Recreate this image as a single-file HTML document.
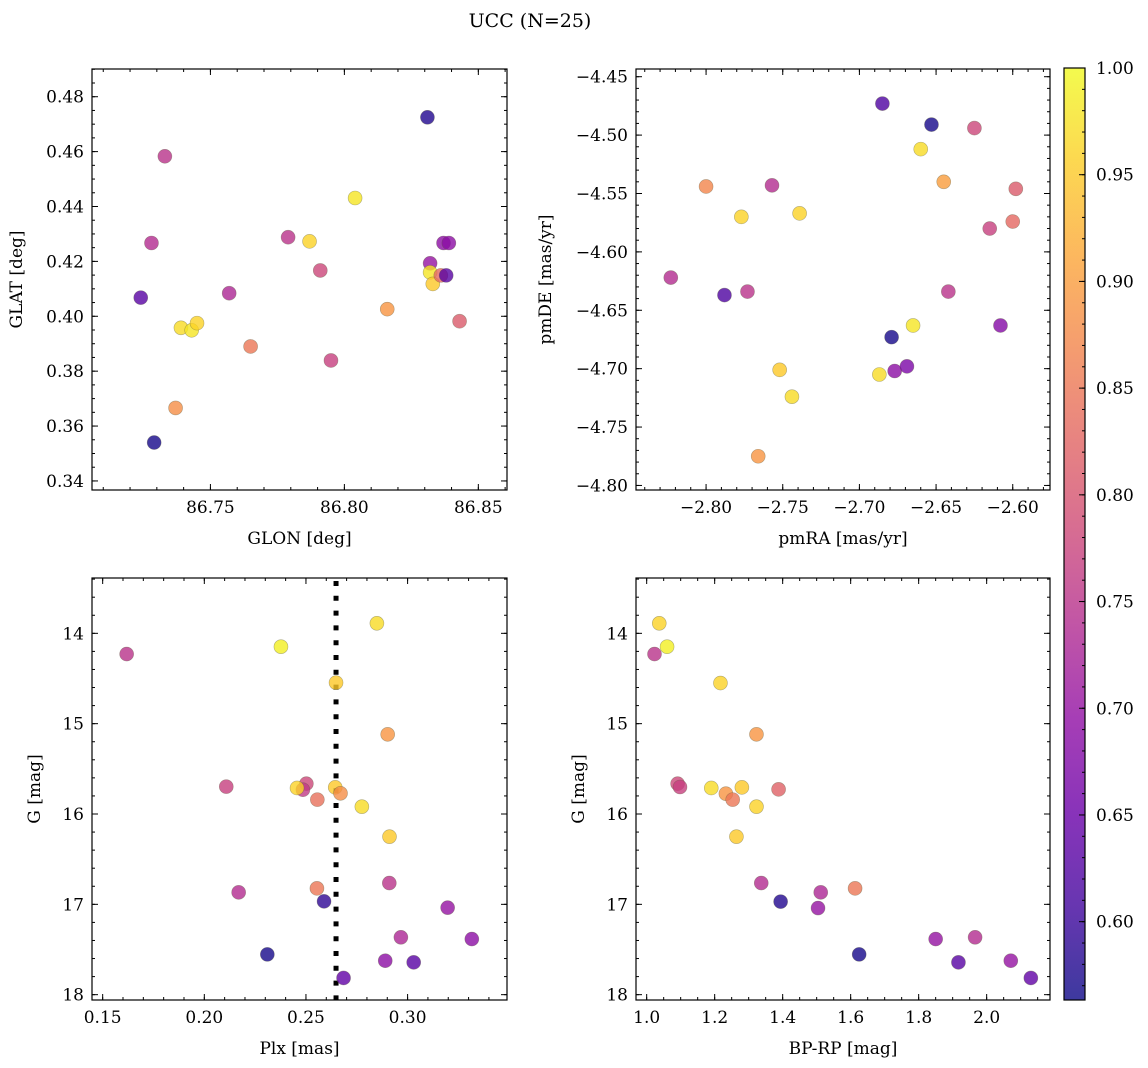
<!DOCTYPE html>
<html><head><meta charset="utf-8">
<style>
html,body{margin:0;padding:0;background:#fff;}
svg{display:block;font-family:"DejaVu Serif","Liberation Serif",serif;}
</style></head>
<body>
<svg id="fig" width="1148" height="1068" viewBox="0 0 1148 1068" xmlns="http://www.w3.org/2000/svg">
<text x="530" y="27" font-size="19" text-anchor="middle">UCC (N=25)</text>
</svg>
<script>
// ---- data ----
const prob = [0.58,0.75,0.74,0.63,0.57,0.88,0.97,0.98,0.96,0.73,0.85,0.75,0.96,0.78,0.77,0.98,0.89,0.70,0.98,0.95,0.83,0.63,0.69,0.69,0.81];
const glon = [86.831,86.733,86.728,86.724,86.729,86.737,86.739,86.743,86.745,86.757,86.765,86.779,86.787,86.791,86.795,86.804,86.816,86.832,86.832,86.833,86.836,86.838,86.837,86.839,86.843];
const glat = [0.4725,0.4583,0.4267,0.4068,0.3540,0.3666,0.3958,0.3949,0.3975,0.4084,0.3890,0.4288,0.4273,0.4167,0.3839,0.4431,0.4026,0.4193,0.4160,0.4118,0.4149,0.4149,0.4267,0.4267,0.3982];

const prob2 = [0.62,0.57,0.78,0.97,0.87,0.74,0.90,0.81,0.96,0.96,0.83,0.77,0.74,0.62,0.75,0.75,0.57,0.98,0.68,0.95,0.97,0.97,0.69,0.67,0.89];
const pmra = [-2.685,-2.653,-2.625,-2.660,-2.800,-2.757,-2.645,-2.598,-2.777,-2.739,-2.600,-2.615,-2.823,-2.788,-2.773,-2.642,-2.679,-2.665,-2.608,-2.752,-2.744,-2.687,-2.677,-2.669,-2.766];
const pmde = [-4.473,-4.491,-4.494,-4.512,-4.544,-4.543,-4.540,-4.546,-4.570,-4.567,-4.574,-4.580,-4.622,-4.637,-4.634,-4.634,-4.673,-4.663,-4.663,-4.701,-4.724,-4.705,-4.702,-4.698,-4.775];

const prob3 = [0.75,0.99,0.97,0.95,0.89,0.77,0.78,0.76,0.96,0.95,0.88,0.84,0.97,0.95,0.74,0.85,0.75,0.59,0.70,0.73,0.69,0.57,0.69,0.63,0.64];
const plx = [0.1618,0.2377,0.2849,0.2648,0.2902,0.2108,0.2502,0.2485,0.2456,0.2644,0.2670,0.2556,0.2775,0.2911,0.2169,0.2554,0.2910,0.2589,0.3197,0.2967,0.3316,0.2310,0.2890,0.3030,0.2685];
const gmag3 = [14.229,14.148,13.889,14.546,15.118,15.697,15.664,15.731,15.712,15.705,15.771,15.841,15.919,16.251,16.867,16.823,16.764,16.967,17.037,17.365,17.384,17.554,17.624,17.642,17.815];
const plxLine = 0.2648;

const prob4 = [0.96,0.99,0.75,0.96,0.89,0.78,0.77,0.97,0.95,0.89,0.85,0.82,0.96,0.95,0.74,0.58,0.73,0.70,0.85,0.57,0.70,0.74,0.63,0.70,0.64];
const bprp = [1.037,1.060,1.023,1.217,1.323,1.091,1.098,1.190,1.280,1.233,1.253,1.388,1.323,1.264,1.337,1.394,1.512,1.504,1.613,1.625,1.850,1.966,1.917,2.071,2.130];
const gmag4 = [13.889,14.148,14.229,14.550,15.118,15.664,15.701,15.712,15.705,15.775,15.841,15.727,15.919,16.251,16.764,16.970,16.867,17.041,16.823,17.554,17.384,17.365,17.642,17.624,17.815];

const cbTicks = [0.60,0.65,0.70,0.75,0.80,0.85,0.90,0.95,1.00];
const vmin = 0.5633, vmax = 1.0;

// ---- helpers ----
const NS = "http://www.w3.org/2000/svg";
const svg = document.getElementById('fig');
const FS = 17;
function mk(tag, attrs, parent){
  const e = document.createElementNS(NS, tag);
  for (const k in attrs) e.setAttribute(k, attrs[k]);
  (parent||svg).appendChild(e);
  return e;
}
const stops = [[13,8,135],[65,4,157],[106,0,168],[143,13,164],[177,42,144],[204,71,120],[225,100,98],[242,132,75],[252,166,54],[252,206,37],[240,249,33]];
function plasma(t){
  t = Math.max(0, Math.min(1, t));
  const f = t*10, i = Math.min(9, Math.floor(f)), r = f - i;
  const a = stops[i], b = stops[i+1];
  return 'rgb(' + [0,1,2].map(k => Math.round(a[k] + (b[k]-a[k])*r)).join(',') + ')';
}
function cmap(p){ return plasma((p - vmin)/(vmax - vmin)); }
function fmt(v, d){ const s = v.toFixed(d); return v < 0 ? '\u2212' + s.slice(1) : s; }

function panel(o){
  const {name, L, T, W, H, xr, yr, yinv} = o;
  const X = v => L + (v - xr[0])/(xr[1]-xr[0])*W;
  const Y = yinv ? (v => T + (v - yr[0])/(yr[1]-yr[0])*H) : (v => T + H - (v - yr[0])/(yr[1]-yr[0])*H);
  const g = mk('g', {});
  
  
  const eps = 1e-9;
  function ticksFor(r, step){ const out=[]; let s=Math.ceil(r[0]/step - eps); for(let k=s; k*step<=r[1]+eps; k++) out.push(k*step); return out; }
  const ymin = Math.min(yr[0],yr[1]), ymax = Math.max(yr[0],yr[1]);
  const tg = mk('g', {stroke:'#000','stroke-width':1}, g);
  
  
  ticksFor(xr, o.xminor).forEach(v => { const x = X(v); mk('line',{x1:x,x2:x,y1:T+H,y2:T+H-3},tg); mk('line',{x1:x,x2:x,y1:T,y2:T+3},tg); });
  ticksFor([ymin,ymax], o.yminor).forEach(v => { const y = Y(v); mk('line',{x1:L,x2:L+3,y1:y,y2:y},tg); mk('line',{x1:L+W,x2:L+W-3,y1:y,y2:y},tg); });
  ticksFor(xr, o.xmajor).forEach(v => {
    const x = X(v);
    mk('line',{x1:x,x2:x,y1:T+H,y2:T+H-6},tg); mk('line',{x1:x,x2:x,y1:T,y2:T+6},tg);
    const t = mk('text',{x:x,y:T+H+23,'font-size':FS,'text-anchor':'middle',stroke:'none'},g);
    t.textContent = fmt(v, o.xdec);
    
    
  });
  ticksFor([ymin,ymax], o.ymajor).forEach(v => {
    const y = Y(v);
    mk('line',{x1:L,x2:L+6,y1:y,y2:y},tg); mk('line',{x1:L+W,x2:L+W-6,y1:y,y2:y},tg);
    const t = mk('text',{x:L-8,y:y+6,'font-size':FS,'text-anchor':'end',stroke:'none'},g);
    t.textContent = fmt(v, o.ydec);
    
    
  });
  const xl = mk('text',{x:L+W/2,y:T+H+54,'font-size':FS,'text-anchor':'middle'},g);
  xl.textContent = o.xlabel;
  
  
  const yl = mk('text',{x:0,y:0,'font-size':FS,'text-anchor':'middle',transform:`translate(${o.ylx},${T+H/2}) rotate(-90)`},g);
  yl.textContent = o.ylabel;
  
  
  return {g, X, Y, L, T, W, H};
}
function scatter(p, xs, ys, ps){
  const pg = mk('g', {}, p.g);
  
  
  xs.forEach((v, i) => {
    const c = mk('circle', {cx:p.X(v), cy:p.Y(ys[i]), r:7, fill:cmap(ps[i]), 'fill-opacity':0.8, stroke:'rgba(90,90,60,0.45)','stroke-width':0.6}, pg);
    
    
  });
}
function frame(p){
  const r = mk('rect',{x:p.L,y:p.T,width:p.W,height:p.H,fill:'none',stroke:'#000','stroke-width':1.2}, p.g);
  
  
}

// ---- panels ----
const p1 = panel({name:'glon-glat-panel', L:92, T:69, W:415, H:421, xr:[86.7058,86.8607], yr:[0.3367,0.4901], xmajor:0.05, xminor:0.01, ymajor:0.02, yminor:0.005, xdec:2, ydec:2, xlabel:'GLON [deg]', ylabel:'GLAT [deg]', ylx:22});
scatter(p1, glon, glat, prob); frame(p1);

const p2 = panel({name:'pm-panel', L:636, T:69, W:414, H:421, xr:[-2.8457,-2.5757], yr:[-4.8039,-4.4434], xmajor:0.05, xminor:0.01, ymajor:0.05, yminor:0.01, xdec:2, ydec:2, xlabel:'pmRA [mas/yr]', ylabel:'pmDE [mas/yr]', ylx:551});
scatter(p2, pmra, pmde, prob2); frame(p2);

const p3 = panel({name:'plx-g-panel', L:92, T:578, W:415, H:422, xr:[0.14475,0.3489], yr:[13.3875,18.059], yinv:true, xmajor:0.05, xminor:0.01, ymajor:1, yminor:0.2, xdec:2, ydec:0, xlabel:'Plx [mas]', ylabel:'G [mag]', ylx:40});
const dl = mk('line',{x1:p3.X(plxLine),x2:p3.X(plxLine),y1:p3.T+3,y2:p3.T+p3.H,stroke:'#000','stroke-width':5,'stroke-dasharray':'5 9.8'}, p3.g);


scatter(p3, plx, gmag3, prob3); frame(p3);

const p4 = panel({name:'cmd-panel', L:636, T:578, W:414, H:422, xr:[0.9686,2.1863], yr:[13.3875,18.059], yinv:true, xmajor:0.2, xminor:0.05, ymajor:1, yminor:0.2, xdec:1, ydec:0, xlabel:'BP-RP [mag]', ylabel:'G [mag]', ylx:584});
scatter(p4, bprp, gmag4, prob4); frame(p4);

// ---- colorbar ----
const cbL = 1064, cbT = 68, cbW = 21, cbB = 1000;
const cbY = v => cbB - (v - vmin)/(vmax - vmin)*(cbB - cbT);
const cb = mk('g', {});


const defs = mk('defs', {}, cb);
const grad = mk('linearGradient', {id:'cbg', x1:0, y1:1, x2:0, y2:0}, defs);
for (let i = 0; i <= 20; i++) mk('stop', {offset:(i/20), 'stop-color':plasma(i/20), 'stop-opacity':0.8}, grad);
mk('rect', {x:cbL, y:cbT, width:cbW, height:cbB-cbT, fill:'url(#cbg)'}, cb);
for (let v = 0.57; v <= 1.0001; v += 0.01) { const y = cbY(v); mk('line',{x1:cbL+cbW,x2:cbL+cbW-3,y1:y,y2:y,stroke:'#000'},cb); }
cbTicks.forEach(v => {
  const y = cbY(v);
  mk('line',{x1:cbL+cbW,x2:cbL+cbW-6,y1:y,y2:y,stroke:'#000'},cb);
  const t = mk('text',{x:cbL+cbW+11,y:y+6,'font-size':FS},cb);
  t.textContent = v.toFixed(2);
  
  
});
mk('rect', {x:cbL, y:cbT, width:cbW, height:cbB-cbT, fill:'none', stroke:'#000','stroke-width':1.2}, cb);
</script>
</body></html>
